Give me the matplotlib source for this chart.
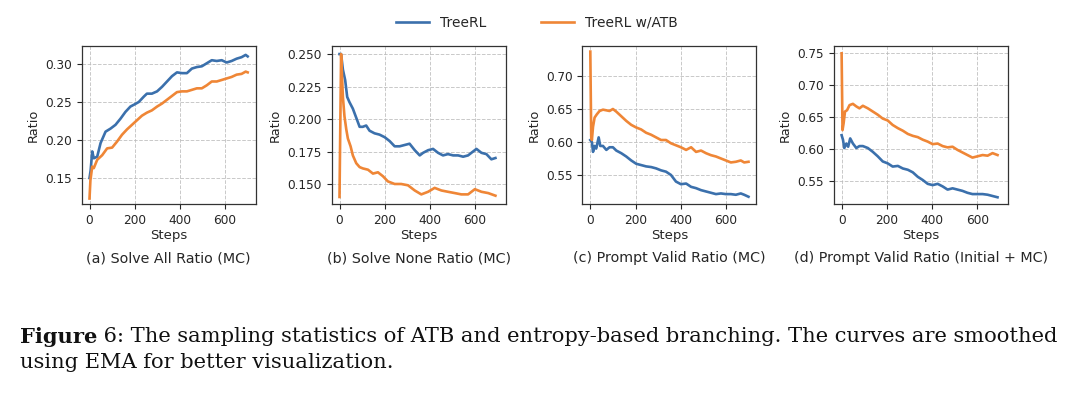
import matplotlib
matplotlib.use("Agg")
import matplotlib.pyplot as plt

# ---- data (EMA-smoothed curves) ----
a_treerl_steps = [0, 5, 12, 19, 34, 49, 71, 93, 115, 137, 159, 181, 200, 218, 240, 254, 276, 299, 321, 343,
                  365, 387, 409, 431, 453, 475, 497, 519, 541, 563, 585, 607, 629, 651, 673, 691, 700]
a_treerl = [0.150, 0.160, 0.185, 0.176, 0.178, 0.196, 0.211, 0.215, 0.220, 0.228, 0.237, 0.244, 0.247, 0.250,
            0.257, 0.261, 0.261, 0.264, 0.270, 0.277, 0.284, 0.289, 0.288, 0.288, 0.294, 0.296, 0.297, 0.301,
            0.305, 0.304, 0.305, 0.302, 0.304, 0.307, 0.309, 0.312, 0.310]
a_atb_steps = [0, 4, 12, 19, 34, 56, 78, 100, 122, 144, 166, 188, 210, 232, 254, 276, 299, 321, 343, 365,
               387, 409, 431, 453, 475, 497, 519, 541, 563, 585, 607, 629, 651, 673, 691, 700]
a_atb = [0.123, 0.147, 0.165, 0.163, 0.174, 0.180, 0.189, 0.190, 0.198, 0.207, 0.214, 0.220, 0.226, 0.232,
         0.236, 0.239, 0.244, 0.248, 0.253, 0.258, 0.263, 0.264, 0.264, 0.266, 0.268, 0.268, 0.272, 0.277,
         0.277, 0.279, 0.281, 0.283, 0.286, 0.287, 0.290, 0.289]

b_treerl_steps = [0, 7, 15, 25, 34, 44, 59, 74, 89, 103, 118, 133, 155, 177, 200, 222, 244, 266, 288, 310,
                  333, 355, 370, 392, 414, 436, 458, 480, 503, 525, 547, 569, 591, 606, 628, 650, 672, 690]
b_treerl = [0.250, 0.250, 0.238, 0.230, 0.217, 0.213, 0.208, 0.201, 0.194, 0.194, 0.195, 0.191, 0.189, 0.188,
            0.186, 0.183, 0.179, 0.179, 0.180, 0.181, 0.176, 0.172, 0.174, 0.176, 0.177, 0.174, 0.172, 0.173,
            0.172, 0.172, 0.171, 0.172, 0.175, 0.177, 0.174, 0.173, 0.169, 0.170]
b_atb_steps = [0, 7, 15, 22, 30, 37, 49, 59, 74, 89, 103, 126, 148, 170, 192, 214, 244, 273, 303, 333,
               362, 392, 421, 451, 480, 510, 539, 569, 599, 628, 658, 690]
b_atb = [0.140, 0.250, 0.217, 0.202, 0.192, 0.185, 0.179, 0.172, 0.166, 0.163, 0.162, 0.161, 0.158, 0.159,
         0.156, 0.152, 0.150, 0.150, 0.149, 0.145, 0.142, 0.144, 0.147, 0.145, 0.144, 0.143, 0.142, 0.142,
         0.146, 0.144, 0.143, 0.141]

c_treerl_steps = [0, 7, 12, 19, 26, 37, 44, 56, 71, 85, 100, 115, 137, 159, 181, 203, 225, 247, 269, 291,
                  313, 335, 357, 379, 401, 424, 446, 468, 490, 512, 534, 556, 578, 600, 622, 644, 666, 681, 700]
c_treerl = [0.603, 0.600, 0.585, 0.594, 0.590, 0.607, 0.594, 0.594, 0.588, 0.592, 0.592, 0.587, 0.583, 0.578,
            0.572, 0.567, 0.565, 0.563, 0.562, 0.560, 0.557, 0.555, 0.550, 0.540, 0.536, 0.537, 0.532, 0.530,
            0.527, 0.525, 0.523, 0.521, 0.522, 0.521, 0.521, 0.520, 0.522, 0.520, 0.517]
c_atb_steps = [0, 4, 7, 12, 19, 29, 41, 56, 71, 85, 100, 115, 137, 159, 181, 203, 225, 247, 269, 291,
               313, 335, 357, 379, 401, 424, 446, 468, 490, 512, 534, 556, 578, 600, 622, 644, 666, 681, 700]
c_atb = [0.737, 0.608, 0.603, 0.623, 0.637, 0.642, 0.647, 0.649, 0.648, 0.647, 0.650, 0.646, 0.639, 0.632,
         0.626, 0.622, 0.619, 0.614, 0.611, 0.607, 0.603, 0.603, 0.598, 0.595, 0.592, 0.588, 0.592, 0.585,
         0.587, 0.583, 0.580, 0.578, 0.575, 0.572, 0.569, 0.570, 0.572, 0.569, 0.570]

d_treerl_steps = [0, 6, 12, 21, 29, 38, 50, 65, 79, 94, 116, 138, 160, 182, 204, 226, 249, 271, 293, 315,
                  337, 359, 381, 403, 425, 447, 469, 491, 513, 535, 557, 579, 601, 624, 646, 668, 690]
d_treerl = [0.622, 0.615, 0.602, 0.609, 0.604, 0.617, 0.609, 0.602, 0.605, 0.605, 0.602, 0.596, 0.589, 0.581,
            0.578, 0.573, 0.574, 0.570, 0.568, 0.564, 0.557, 0.552, 0.546, 0.544, 0.546, 0.542, 0.537, 0.539,
            0.537, 0.535, 0.532, 0.530, 0.530, 0.530, 0.529, 0.527, 0.525]
d_atb_steps = [0, 4, 9, 15, 24, 35, 50, 65, 79, 94, 116, 138, 160, 182, 204, 226, 249, 271, 293, 315,
               337, 359, 381, 403, 425, 447, 469, 491, 513, 535, 557, 579, 601, 624, 646, 668, 690]
d_atb = [0.750, 0.630, 0.641, 0.659, 0.661, 0.669, 0.671, 0.667, 0.664, 0.668, 0.664, 0.659, 0.654, 0.648,
         0.645, 0.638, 0.633, 0.629, 0.624, 0.621, 0.619, 0.615, 0.612, 0.608, 0.609, 0.605, 0.603, 0.604,
         0.599, 0.595, 0.591, 0.587, 0.589, 0.591, 0.590, 0.594, 0.591]

captions = ["(a) Solve All Ratio (MC)", "(b) Solve None Ratio (MC)",
            "(c) Prompt Valid Ratio (MC)", "(d) Prompt Valid Ratio (Initial + MC)"]
series_names = ["TreeRL", "TreeRL w/ATB"]

panels = [
    (a_treerl_steps, a_treerl, a_atb_steps, a_atb, (0.1158, 0.3237), [0.15, 0.20, 0.25, 0.30], "{:.2f}"),
    (b_treerl_steps, b_treerl, b_atb_steps, b_atb, (0.1346, 0.2562), [0.150, 0.175, 0.200, 0.225, 0.250], "{:.3f}"),
    (c_treerl_steps, c_treerl, c_atb_steps, c_atb, (0.506, 0.7455), [0.55, 0.60, 0.65, 0.70], "{:.2f}"),
    (d_treerl_steps, d_treerl, d_atb_steps, d_atb, (0.5145, 0.7614), [0.55, 0.60, 0.65, 0.70, 0.75], "{:.2f}"),
]

BLUE = '#3b70ac'
ORANGE = '#ef8636'
TXT = '#262626'

plt.rcParams['font.family'] = 'DejaVu Sans'

fig = plt.figure(figsize=(10.8, 3.97), dpi=100)

lefts = [81.6, 331.6, 582.4, 833.7]
ax_w, ax_h = 174 / 1080, 158 / 397
ax_bottom = (397 - 204) / 397

for i, (sx1, y1, sx2, y2, ylim, yticks, fmt) in enumerate(panels):
    ax = fig.add_axes([lefts[i] / 1080, ax_bottom, ax_w, ax_h])
    l1, = ax.plot(sx1, y1, color=BLUE, lw=1.9, label=series_names[0])
    l2, = ax.plot(sx2, y2, color=ORANGE, lw=1.9, label=series_names[1])

    ax.set_xlim(-35, 735)
    ax.set_ylim(*ylim)
    ax.set_xticks([0, 200, 400, 600])
    ax.set_yticks(yticks)
    ax.set_yticklabels([fmt.format(t) for t in yticks])
    ax.tick_params(labelsize=8.7, colors=TXT, length=3.5)
    ax.grid(True, linestyle='--', color='#bbbbbb', linewidth=0.7, alpha=0.8)
    for sp in ax.spines.values():
        sp.set_color('#333333')
        sp.set_linewidth(0.9)

    ax.set_xlabel('Steps', fontsize=9.5, color=TXT, labelpad=2)
    ax.set_ylabel('Ratio', fontsize=9.3, color=TXT)
    ax.text(0.5, -0.342, captions[i], transform=ax.transAxes, ha='center', va='center',
            fontsize=10.3, color=TXT)

fig.legend([l1, l2], series_names, loc='center', bbox_to_anchor=(537 / 1080, 1 - 23 / 397),
           ncol=2, frameon=False, fontsize=9.9, handlelength=2.4, columnspacing=4.0,
           handletextpad=0.8, labelcolor=TXT)

# figure caption below the panels
cap_y1 = 1 - 337 / 397
cap_y2 = 1 - 363 / 397
cap_size = 15.1
t1 = fig.text(20 / 1080, cap_y1, "Figure", family='DejaVu Serif', fontweight='bold',
              fontsize=cap_size, va='center', ha='left', color='#111111')
renderer = fig.canvas.get_renderer()
bb = t1.get_window_extent(renderer=renderer)
fig.text(bb.x1 / fig.bbox.width, cap_y1,
         " 6: The sampling statistics of ATB and entropy-based branching. The curves are smoothed",
         family='DejaVu Serif', fontsize=cap_size, va='center', ha='left', color='#111111')
fig.text(20 / 1080, cap_y2, "using EMA for better visualization.", family='DejaVu Serif',
         fontsize=cap_size, va='center', ha='left', color='#111111')

fig.savefig('out.png', dpi=100)
